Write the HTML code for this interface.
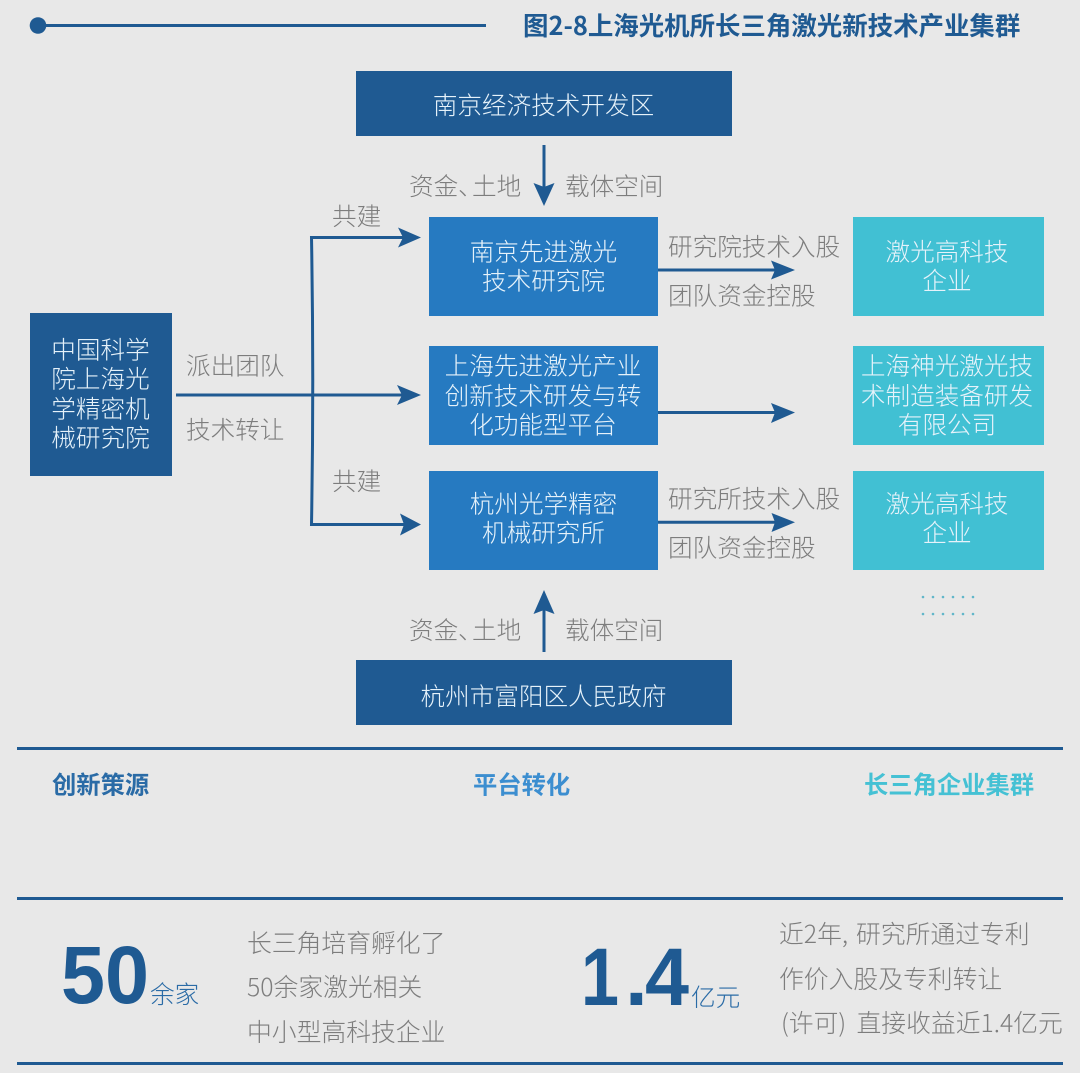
<!DOCTYPE html>
<html lang="zh"><head><meta charset="utf-8">
<style>
html,body{margin:0;padding:0;background:#e8e8e8}
svg{display:block}
text{font-family:"Noto Sans CJK SC","Liberation Sans",sans-serif;font-weight:300;font-size:24.6px}
.w{fill:#e6f2fa;text-anchor:middle}
.g{fill:#7d7d7d}
.d{fill:#1f5a92}
.b{font-weight:700}
.h{font-size:24.3px}
.n{font-family:"Liberation Sans","Noto Sans CJK SC",sans-serif;font-weight:700;fill:#1f5a92;font-size:82px}
.t{font-size:24.8px}
</style></head><body>
<svg width="1080" height="1073" viewBox="0 0 1080 1073" xmlns="http://www.w3.org/2000/svg">
<rect width="1080" height="1073" fill="#e8e8e8"/>
<circle cx="38" cy="25.500" r="8.300" fill="#1f5a92"/>
<rect x="38" y="24" width="448" height="3" fill="#1f5a92"/>
<text class="d b" x="523" y="35" style="font-size:25.450px">图2-8上海光机所长三角激光新技术产业集群</text>

<g fill="#1f5a92">
<rect x="356" y="71" width="376" height="65"/>
<rect x="356" y="660" width="376" height="65"/>
<rect x="30" y="313" width="142" height="163"/>
</g>
<g fill="#267ac1">
<rect x="429" y="217" width="229" height="99"/>
<rect x="429" y="346" width="229" height="99"/>
<rect x="429" y="471" width="229" height="99"/>
</g>
<g fill="#41c0d3">
<rect x="853" y="217" width="191" height="99"/>
<rect x="853" y="346" width="191" height="99"/>
<rect x="853" y="471" width="191" height="99"/>
</g>

<text class="w" x="543.500" y="114">南京经济技术开发区</text>
<text class="w" x="543.500" y="705">杭州市富阳区人民政府</text>
<text class="w" x="100.500" y="358.500">中国科学</text>
<text class="w" x="100.500" y="387.500">院上海光</text>
<text class="w" x="100.500" y="417.500">学精密机</text>
<text class="w" x="100.500" y="446.500">械研究院</text>
<text class="w" x="543.500" y="260.500">南京先进激光</text>
<text class="w" x="543.500" y="289.500">技术研究院</text>
<text class="w" x="543" y="374.500">上海先进激光产业</text>
<text class="w" x="543" y="404.500">创新技术研发与转</text>
<text class="w" x="543" y="433.500">化功能型平台</text>
<text class="w" x="543.500" y="512.500">杭州光学精密</text>
<text class="w" x="543.500" y="541.500">机械研究所</text>
<text class="w" x="947" y="260.500">激光高科技</text>
<text class="w" x="947" y="289.500">企业</text>
<text class="w" x="947" y="374.500">上海神光激光技</text>
<text class="w" x="947" y="404.500">术制造装备研发</text>
<text class="w" x="947" y="433.500">有限公司</text>
<text class="w" x="947" y="512.500">激光高科技</text>
<text class="w" x="947" y="541.500">企业</text>

<text class="g" y="195"><tspan x="409">资金</tspan><tspan x="458">、</tspan><tspan x="472">土地</tspan></text>
<text class="g" x="565" y="195">载体空间</text>
<text class="g" y="639"><tspan x="409">资金</tspan><tspan x="458">、</tspan><tspan x="472">土地</tspan></text>
<text class="g" x="565" y="639">载体空间</text>
<text class="g" x="332" y="225">共建</text>
<text class="g" x="332" y="490">共建</text>
<text class="g" x="186" y="374.500">派出团队</text>
<text class="g" x="186" y="438.500">技术转让</text>
<text class="g" x="668" y="255.500">研究院技术入股</text>
<text class="g" x="668" y="304.500">团队资金控股</text>
<text class="g" x="668" y="507.500">研究所技术入股</text>
<text class="g" x="668" y="556.500">团队资金控股</text>

<g stroke="#1f5a92" stroke-width="3" fill="none">
<path d="M544 145V190"/>
<path d="M544 652V605"/>
<path d="M176 395H405"/>
<path d="M405 237.500H311.500Q314 380 311.500 524.500H405"/>
<path d="M658 270H780"/>
<path d="M658 412.500H780"/>
<path d="M658 522.300H780"/>
</g>
<g fill="#1f5a92">
<path d="M544 206L533.500 183L544 187L554.500 183Z"/>
<path d="M544 590L533.500 614L544 610L554.500 614Z"/>
<path d="M421 395L397 385L402 395L397 405Z"/>
<path d="M421 524.500L400 513.500L404 524.500L400 535.500Z"/>
<path d="M421 237.500L398 227.500L403 237.500L398 247.500Z"/>
<path d="M795 270L771 260.500L775 270L771 279.500Z"/>
<path d="M795 412.500L771 403L775 412.500L771 423Z"/>
<path d="M795 522.300L771.500 513L775 522.300L771.500 532Z"/>
</g>
<g fill="#62b6c9">
<circle cx="923" cy="597" r="1.300"/><circle cx="933" cy="597" r="1.300"/><circle cx="943" cy="597" r="1.300"/><circle cx="953" cy="597" r="1.300"/><circle cx="963" cy="597" r="1.300"/><circle cx="973" cy="597" r="1.300"/>
<circle cx="923" cy="614" r="1.300"/><circle cx="933" cy="614" r="1.300"/><circle cx="943" cy="614" r="1.300"/><circle cx="953" cy="614" r="1.300"/><circle cx="963" cy="614" r="1.300"/><circle cx="973" cy="614" r="1.300"/>
</g>

<g fill="#1f5a92">
<rect x="17" y="747" width="1046" height="3"/>
<rect x="17" y="897" width="1046" height="3"/>
<rect x="17" y="1062" width="1046" height="3"/>
</g>
<text class="b h" x="52" y="793.500" fill="#2a6ba6">创新策源</text>
<text class="b h" x="473" y="793.500" fill="#3c8ed0">平台转化</text>
<text class="b h" x="864" y="793.500" fill="#45c1d4">长三角企业集群</text>

<text class="n" x="61" y="1003" textLength="88" lengthAdjust="spacingAndGlyphs">50</text>
<text x="150" y="1003" fill="#2a6ba6">余家</text>
<text class="n" x="581" y="1005" textLength="38" lengthAdjust="spacingAndGlyphs">1</text>
<text class="n" x="625" y="1005">.</text>
<text class="n" x="645" y="1005" textLength="44" lengthAdjust="spacingAndGlyphs">4</text>
<text x="691" y="1006" fill="#2a6ba6">亿元</text>

<text class="g t" x="247" y="952">长三角培育孵化了</text>
<text class="g t" x="247" y="996">50余家激光相关</text>
<text class="g t" x="247" y="1041">中小型高科技企业</text>
<text class="g t" y="943"><tspan x="779">近2年,</tspan><tspan x="856">研究所通过专利</tspan></text>
<text class="g t" x="779" y="988">作价入股及专利转让</text>
<text class="g t" y="1032"><tspan x="781">(许可)</tspan><tspan x="856.500">直接收益近1.4亿元</tspan></text>
</svg>
</body></html>
